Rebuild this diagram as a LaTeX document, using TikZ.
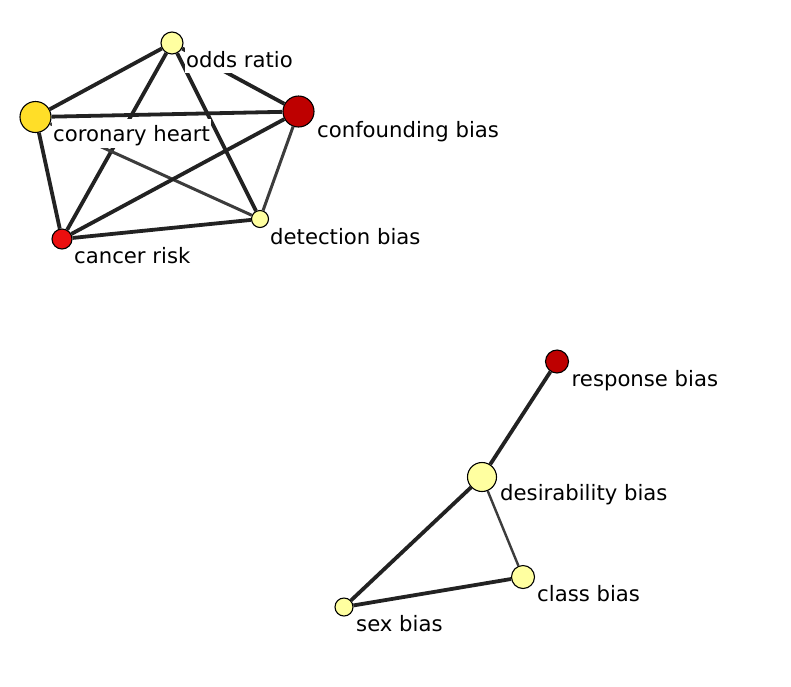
\documentclass[tikz,border=0pt]{standalone}
\usepackage{fontspec}
\setmainfont{DejaVu Sans}
\definecolor{paleyel}{RGB}{255,255,160}
\definecolor{goldyel}{RGB}{255,222,40}
\definecolor{darkred}{RGB}{190,0,0}
\definecolor{brightred}{RGB}{235,15,15}
\definecolor{edgecol}{RGB}{34,34,34}
\definecolor{edgegray}{RGB}{60,60,60}
\begin{document}
\begin{tikzpicture}[x=1pt,y=-1pt,
  vert/.style={circle,draw=black,line width=1.1pt,inner sep=0pt},
  lbl/.style={anchor=base west,fill=white,inner sep=1.5pt,text height=21pt,text depth=4.5pt,
    font=\fontsize{21.2pt}{24pt}\selectfont},
  link/.style={draw=edgecol,line width=3.8pt},
  thinlink/.style={draw=edgegray,line width=3pt},
  thinnerlink/.style={draw=edgegray,line width=2.4pt}]
\useasboundingbox (0,0) rectangle (791,686);
% nodes
\node[vert,fill=paleyel,minimum size=22pt] (O) at (172,43) {};
\node[vert,fill=goldyel,minimum size=31pt] (C) at (35.5,117) {};
\node[vert,fill=darkred,minimum size=31pt] (F) at (298.5,111.5) {};
\node[vert,fill=paleyel,minimum size=17pt] (D) at (260,219) {};
\node[vert,fill=brightred,minimum size=20pt] (K) at (62,239) {};
\node[vert,fill=darkred,minimum size=23pt] (R) at (557,361.5) {};
\node[vert,fill=paleyel,minimum size=29pt] (Y) at (482,477) {};
\node[vert,fill=paleyel,minimum size=23pt] (L) at (523,577) {};
\node[vert,fill=paleyel,minimum size=18pt] (S) at (344,607) {};
% edges
\draw[link] (O) -- (C);
\draw[link] (O) -- (K);
\draw[link] (O) -- (D);
\draw[link] (O) -- (F);
\draw[link] (C) -- (F);
\draw[link] (C) -- (K);
\draw[thinlink] (C) -- (D);
\draw[link] (F) -- (K);
\draw[thinlink] (F) -- (D);
\draw[link] (K) -- (D);
\draw[link] (R) -- (Y);
\draw[link] (Y) -- (S);
\draw[thinnerlink] (Y) -- (L);
\draw[link] (L) -- (S);
% labels
\node[lbl] (lO) at (184.5,67) {odds ratio};
\node[lbl] (lC) at (51.5,141.7) {coronary heart};
\node[lbl] (lF) at (315.5,137.5) {confounding bias};
\node[lbl] (lD) at (268.5,244.5) {detection bias};
\node[lbl] (lK) at (72.5,263.5) {cancer risk};
\node[lbl] (lR) at (570,386.5) {response bias};
\node[lbl] (lY) at (498.5,500.5) {desirability bias};
\node[lbl] (lL) at (535.5,601.5) {class bias};
\node[lbl] (lS) at (354.5,631) {sex bias};
\end{tikzpicture}
\end{document}
